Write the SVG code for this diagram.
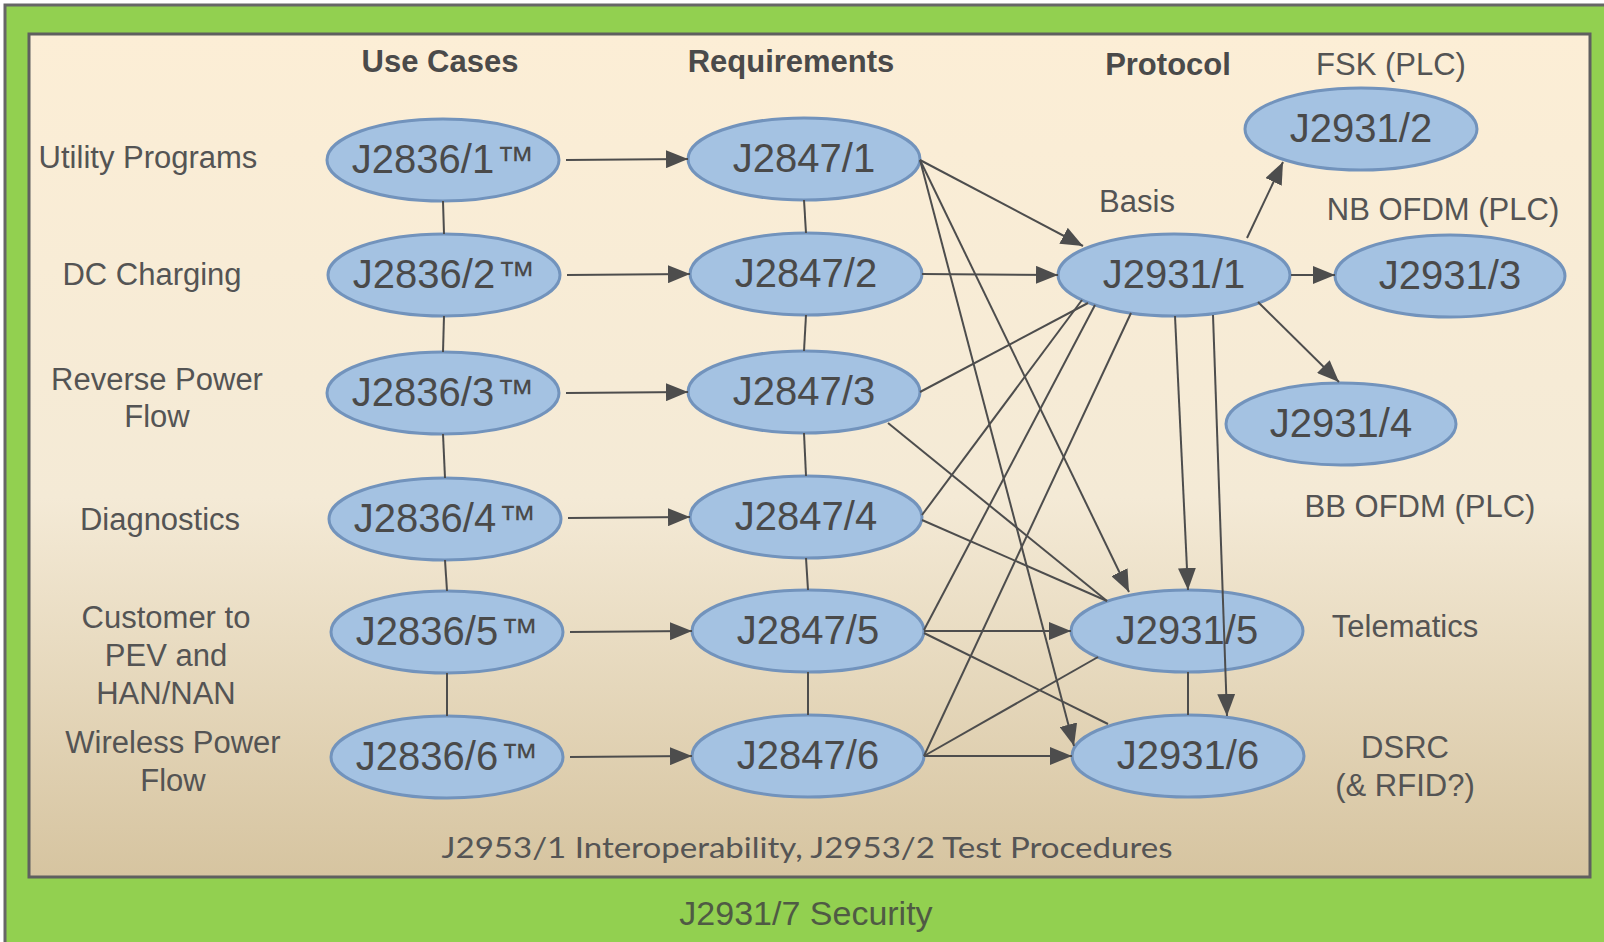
<svg xmlns="http://www.w3.org/2000/svg" width="1604" height="942" viewBox="0 0 1604 942">
<defs>
<linearGradient id="bg" x1="0" y1="0" x2="0" y2="1">
<stop offset="0" stop-color="#FCEED6"/>
<stop offset="0.55" stop-color="#F4EAD6"/>
<stop offset="1" stop-color="#D6C4A0"/>
</linearGradient>
<marker id="ah" markerUnits="userSpaceOnUse" markerWidth="22" markerHeight="18" refX="22" refY="9" orient="auto">
<path d="M0,0 L22,9 L0,18 z" fill="#4d4d4d"/>
</marker>
</defs>
<style>
.node ellipse{fill:#A4C2E2;stroke:#7293BC;stroke-width:3}
.nt{font-family:"Liberation Sans",Arial,sans-serif;font-size:40px;fill:#4a4a4a;text-anchor:middle}
.tm{font-size:38px}
.hd{font-family:"Liberation Sans",Arial,sans-serif;font-size:31px;font-weight:bold;fill:#4a4a4a;text-anchor:middle}
.lb{font-family:"Liberation Sans",Arial,sans-serif;font-size:31px;fill:#545454;text-anchor:middle}
.ln{stroke:#4d4d4d;stroke-width:2;fill:none}
.ar{stroke:#4d4d4d;stroke-width:2;fill:none;marker-end:url(#ah)}
</style>
<rect x="5" y="5" width="1620" height="960" fill="#92D050" stroke="#666" stroke-width="3"/>
<rect x="29" y="34" width="1561" height="843" fill="url(#bg)" stroke="#5f5f5f" stroke-width="3"/>

<g id="labels">
<text class="hd" x="440" y="72">Use Cases</text>
<text class="hd" x="791" y="72">Requirements</text>
<text class="hd" x="1168" y="75">Protocol</text>
<text class="lb" x="1391" y="75">FSK (PLC)</text>
<text class="lb" x="1137" y="212">Basis</text>
<text class="lb" x="1443" y="220">NB OFDM (PLC)</text>
<text class="lb" x="1420" y="517">BB OFDM (PLC)</text>
<text class="lb" x="1405" y="637">Telematics</text>
<text class="lb" x="1405" y="758">DSRC</text>
<text class="lb" x="1405" y="796">(&amp; RFID?)</text>
<text class="lb" x="148" y="168">Utility Programs</text>
<text class="lb" x="152" y="285">DC Charging</text>
<text class="lb" x="157" y="390">Reverse Power</text>
<text class="lb" x="157" y="427">Flow</text>
<text class="lb" x="160" y="530">Diagnostics</text>
<text class="lb" x="166" y="628">Customer to</text>
<text class="lb" x="166" y="666">PEV and</text>
<text class="lb" x="166" y="704">HAN/NAN</text>
<text class="lb" x="173" y="753">Wireless Power</text>
<text class="lb" x="173" y="791">Flow</text>
<text x="807" y="858" font-family="Lato,'Open Sans',sans-serif" font-size="28" fill="#555" text-anchor="middle" textLength="731" lengthAdjust="spacingAndGlyphs">J2953/1 Interoperability, J2953/2 Test Procedures</text>
<text x="806" y="925" font-family="'Liberation Sans',Arial,sans-serif" font-size="34" fill="#4f5a44" text-anchor="middle">J2931/7 Security</text>
</g>

<g id="n-J2836-1" class="node"><ellipse cx="443" cy="160" rx="116" ry="41"/><text class="nt" x="443" y="173">J2836/1<tspan class="tm" dx="2">™</tspan></text></g>
<g id="n-J2836-2" class="node"><ellipse cx="444" cy="275" rx="116" ry="41"/><text class="nt" x="444" y="288">J2836/2<tspan class="tm" dx="2">™</tspan></text></g>
<g id="n-J2836-3" class="node"><ellipse cx="443" cy="393" rx="116" ry="41"/><text class="nt" x="443" y="406">J2836/3<tspan class="tm" dx="2">™</tspan></text></g>
<g id="n-J2836-4" class="node"><ellipse cx="445" cy="519" rx="116" ry="41"/><text class="nt" x="445" y="532">J2836/4<tspan class="tm" dx="2">™</tspan></text></g>
<g id="n-J2836-5" class="node"><ellipse cx="447" cy="632" rx="116" ry="41"/><text class="nt" x="447" y="645">J2836/5<tspan class="tm" dx="2">™</tspan></text></g>
<g id="n-J2836-6" class="node"><ellipse cx="447" cy="757" rx="116" ry="41"/><text class="nt" x="447" y="770">J2836/6<tspan class="tm" dx="2">™</tspan></text></g>

<g id="n-J2847-1" class="node"><ellipse cx="804" cy="159" rx="116" ry="41"/><text class="nt" x="804" y="172">J2847/1</text></g>
<g id="n-J2847-2" class="node"><ellipse cx="806" cy="274" rx="116" ry="41"/><text class="nt" x="806" y="287">J2847/2</text></g>
<g id="n-J2847-3" class="node"><ellipse cx="804" cy="392" rx="116" ry="41"/><text class="nt" x="804" y="405">J2847/3</text></g>
<g id="n-J2847-4" class="node"><ellipse cx="806" cy="517" rx="116" ry="41"/><text class="nt" x="806" y="530">J2847/4</text></g>
<g id="n-J2847-5" class="node"><ellipse cx="808" cy="631" rx="116" ry="41"/><text class="nt" x="808" y="644">J2847/5</text></g>
<g id="n-J2847-6" class="node"><ellipse cx="808" cy="756" rx="116" ry="41"/><text class="nt" x="808" y="769">J2847/6</text></g>

<g id="n-J2931-1" class="node"><ellipse cx="1174" cy="275" rx="116" ry="41"/><text class="nt" x="1174" y="288">J2931/1</text></g>
<g id="n-J2931-2" class="node"><ellipse cx="1361" cy="129" rx="116" ry="41"/><text class="nt" x="1361" y="142">J2931/2</text></g>
<g id="n-J2931-3" class="node"><ellipse cx="1450" cy="276" rx="115" ry="41"/><text class="nt" x="1450" y="289">J2931/3</text></g>
<g id="n-J2931-4" class="node"><ellipse cx="1341" cy="424" rx="115" ry="41"/><text class="nt" x="1341" y="437">J2931/4</text></g>
<g id="n-J2931-5" class="node"><ellipse cx="1187" cy="631" rx="116" ry="41"/><text class="nt" x="1187" y="644">J2931/5</text></g>
<g id="n-J2931-6" class="node"><ellipse cx="1188" cy="756" rx="116" ry="41"/><text class="nt" x="1188" y="769">J2931/6</text></g>

<g id="connectors">
<line class="ln" x1="443" y1="201" x2="444" y2="234"/>
<line class="ln" x1="444" y1="316" x2="443" y2="352"/>
<line class="ln" x1="443" y1="434" x2="445" y2="478"/>
<line class="ln" x1="445" y1="560" x2="447" y2="591"/>
<line class="ln" x1="447" y1="673" x2="447" y2="716"/>
<line class="ln" x1="804" y1="200" x2="806" y2="233"/>
<line class="ln" x1="806" y1="315" x2="804" y2="351"/>
<line class="ln" x1="804" y1="433" x2="806" y2="476"/>
<line class="ln" x1="806" y1="558" x2="808" y2="590"/>
<line class="ln" x1="808" y1="672" x2="808" y2="715"/>
<line class="ln" x1="1188" y1="672" x2="1188" y2="715"/>

<line class="ar" x1="566" y1="160" x2="688" y2="159"/>
<line class="ar" x1="567" y1="275" x2="690" y2="274"/>
<line class="ar" x1="566" y1="393" x2="688" y2="392"/>
<line class="ar" x1="568" y1="518" x2="690" y2="517"/>
<line class="ar" x1="570" y1="632" x2="692" y2="631"/>
<line class="ar" x1="570" y1="757" x2="692" y2="756"/>

<line class="ar" x1="920" y1="160" x2="1083" y2="246"/>
<line class="ar" x1="920" y1="160" x2="1129" y2="592"/>
<line class="ar" x1="920" y1="160" x2="1074" y2="746"/>
<line class="ar" x1="922" y1="274" x2="1058" y2="275"/>
<line class="ln" x1="920" y1="392" x2="1088" y2="303"/>
<line class="ln" x1="888" y1="423" x2="1107" y2="601"/>
<line class="ln" x1="922" y1="515" x2="1082" y2="300"/>
<line class="ln" x1="922" y1="520" x2="1107" y2="601"/>
<line class="ar" x1="924" y1="631" x2="1071" y2="631"/>
<line class="ln" x1="924" y1="630" x2="1095" y2="305"/>
<line class="ln" x1="924" y1="633" x2="1108" y2="724"/>
<line class="ar" x1="924" y1="756" x2="1072" y2="756"/>
<line class="ln" x1="924" y1="756" x2="1131" y2="313"/>
<line class="ln" x1="924" y1="756" x2="1098" y2="657"/>

<line class="ar" x1="1247" y1="238" x2="1283" y2="162"/>
<line class="ar" x1="1291" y1="275" x2="1335" y2="275"/>
<line class="ar" x1="1258" y1="302" x2="1339" y2="382"/>
<line class="ar" x1="1175" y1="316" x2="1188" y2="590"/>
<line class="ar" x1="1213" y1="315" x2="1227" y2="716"/>
</g>
</svg>
